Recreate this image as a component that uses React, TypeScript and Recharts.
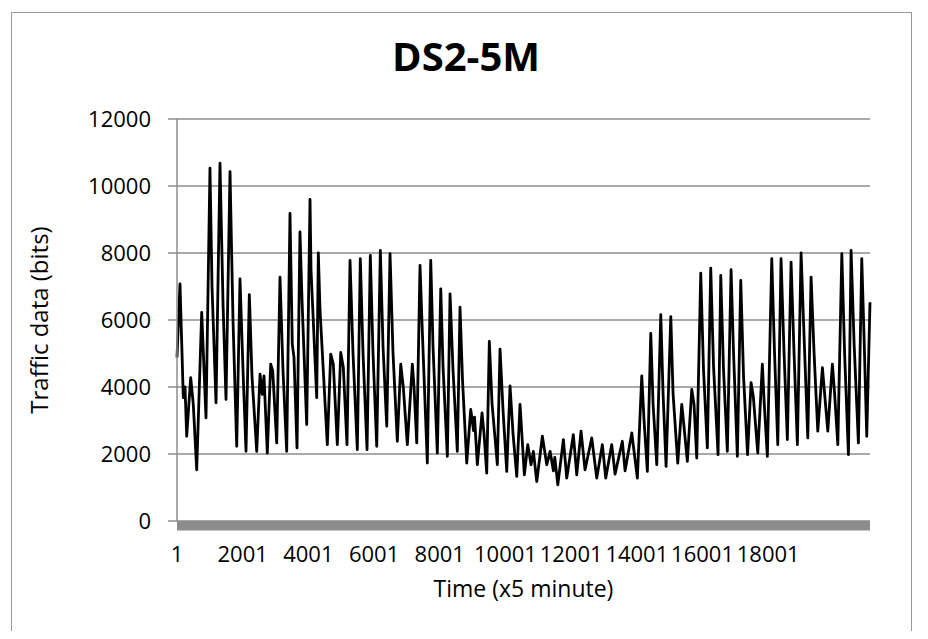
import { LineChart, Line, XAxis, YAxis, CartesianGrid, ReferenceArea, Label } from 'recharts';

// sample index (x5 minute)
const timeIdx = [
  1, 92, 193, 245, 296, 418, 497, 601, 753, 884,
  1005, 1067, 1189, 1310, 1402, 1493, 1615, 1706, 1819, 1919,
  2011, 2102, 2203, 2285, 2428, 2529, 2598, 2650, 2750, 2854,
  2915, 3037, 3137, 3228, 3341, 3441, 3511, 3563, 3655, 3745,
  3807, 3950, 4051, 4081, 4255, 4304, 4355, 4578, 4681, 4760,
  4882, 4986, 5065, 5177, 5269, 5360, 5491, 5582, 5665, 5787,
  5887, 5969, 6082, 6192, 6274, 6387, 6487, 6578, 6709, 6813,
  6892, 7014, 7166, 7218, 7300, 7400, 7461, 7622, 7726, 7796,
  7927, 8031, 8101, 8232, 8314, 8405, 8536, 8618, 8694, 8822,
  8944, 9029, 9060, 9145, 9288, 9349, 9431, 9510, 9593, 9754,
  9836, 9928, 10040, 10141, 10232, 10345, 10445, 10576, 10680, 10780,
  10851, 10955, 11125, 11259, 11360, 11460, 11503, 11595, 11765, 11867,
  12068, 12172, 12302, 12424, 12628, 12781, 12951, 13055, 13237, 13338,
  13560, 13643, 13847, 14017, 14151, 14221, 14322, 14425, 14495, 14608,
  14730, 14800, 14892, 15035, 15104, 15247, 15369, 15439, 15539, 15673,
  15743, 15825, 15947, 16032, 16148, 16251, 16337, 16474, 16556, 16641,
  16757, 16870, 16946, 17062, 17165, 17251, 17372, 17479, 17549, 17683,
  17823, 17875, 17975, 18109, 18194, 18292, 18392, 18484, 18584, 18697,
  18788, 18889, 19002, 19093, 19206, 19306, 19398, 19510, 19651, 19718,
  19815, 19955, 20022, 20120, 20242, 20327, 20443, 20524, 20616, 20747,
  20849, 20919, 21001, 21100,
];

// traffic in bits
const traffic = [
  4880, 7080, 3680, 4000, 2530, 4280, 3480, 1530, 6230, 3080,
  10530, 7000, 3530, 10680, 6500, 3630, 10430, 6000, 2230, 7230,
  4500, 2080, 6760, 4300, 2080, 4380, 3780, 4330, 2030, 4680,
  4480, 2330, 7280, 4500, 2080, 9180, 5280, 4880, 2180, 8630,
  6600, 2880, 9600, 7500, 3680, 8000, 6300, 2280, 4980, 4680,
  2280, 5030, 4580, 2280, 7780, 5000, 2130, 7830, 5000, 2130,
  7930, 5000, 2230, 8080, 5200, 2830, 7980, 5000, 2380, 4680,
  3980, 2280, 4680, 4000, 2330, 7630, 5900, 1730, 7780, 5200,
  2030, 6930, 4600, 1930, 6780, 4500, 2080, 6380, 4200, 1730,
  3330, 2700, 3100, 1680, 3230, 2600, 1430, 5360, 3500, 1680,
  5130, 3300, 1480, 4030, 2600, 1330, 3480, 1380, 2280, 1680,
  2080, 1180, 2530, 1680, 2080, 1500, 1900, 1080, 2430, 1280,
  2580, 1380, 2680, 1530, 2480, 1280, 2280, 1280, 2280, 1400,
  2380, 1500, 2630, 1280, 4330, 3000, 1480, 5600, 3500, 1680,
  6160, 3800, 1630, 6100, 3800, 1730, 3480, 2800, 1780, 3930,
  3480, 1880, 7400, 4500, 2180, 7550, 4600, 1980, 7330, 4500,
  2080, 7500, 5000, 1930, 7180, 4300, 1980, 4130, 3700, 2030,
  4680, 3600, 1930, 7830, 5000, 2280, 7830, 5000, 2430, 7730,
  5000, 2280, 8000, 5500, 2480, 7280, 5000, 2680, 4580, 3800,
  2680, 4680, 3800, 2280, 7980, 5000, 1980, 8080, 5300, 2330,
  7830, 5500, 2530, 6530,
];

const xTicks = [1, 2001, 4001, 6001, 8001, 10001, 12001, 14001, 16001, 18001];
const yTicks = [0, 2000, 4000, 6000, 8000, 10000, 12000];

const chartData = timeIdx.map((t, i) => ({ t, v: traffic[i] }));

const GRID = '#8c8c8c';
const FONT = '"Open Sans", sans-serif';

export default function App() {
  return (
    <div
      style={{
        position: 'relative',
        width: 928,
        height: 639,
        margin: -8,
        overflow: 'hidden',
        background: '#fff',
        fontFamily: FONT,
      }}
    >
      <div
        style={{
          position: 'absolute',
          left: 11,
          top: 12,
          width: 899,
          height: 700,
          border: '1px solid #9a9a9a',
        }}
      />
      <div
        style={{
          position: 'absolute',
          left: 316,
          top: 36,
          width: 300,
          textAlign: 'center',
          fontSize: 40,
          fontWeight: 700,
          lineHeight: '40px',
          color: '#000',
        }}
      >
        DS2-5M
      </div>
      <div style={{ position: 'absolute', left: 0, top: 0 }}>
        <LineChart width={928} height={639} margin={{ top: 119, right: 58, bottom: 0, left: 0 }}>
          <CartesianGrid vertical={false} stroke={GRID} strokeWidth={1.5} />
          <XAxis
            dataKey="t"
            type="number"
            domain={[1, 21100]}
            ticks={xTicks}
            interval={0}
            height={118}
            axisLine={false}
            tickLine={false}
            tickSize={0}
            tickMargin={25}
            tick={{ fill: '#000', fontSize: 22, fontFamily: FONT }}
          >
            <Label
              value="Time (x5 minute)"
              position="insideBottom"
              offset={42}
              style={{ fill: '#000', fontSize: 23, fontFamily: FONT }}
            />
          </XAxis>
          <YAxis
            type="number"
            domain={[0, 12000]}
            ticks={yTicks}
            interval={0}
            width={177}
            axisLine={{ stroke: GRID, strokeWidth: 1.5 }}
            tickLine={{ stroke: GRID, strokeWidth: 1.5 }}
            tickSize={9}
            tickMargin={17}
            tick={{ fill: '#000', fontSize: 22, fontFamily: FONT }}
          >
            <Label
              content={(props: any) => {
                const vb = props.viewBox || { x: 0, y: 119, width: 177, height: 402 };
                const cx = vb.x + 38;
                const cy = vb.y + vb.height / 2;
                return (
                  <text
                    x={cx}
                    y={cy}
                    transform={`rotate(-90 ${cx} ${cy})`}
                    textAnchor="middle"
                    dominantBaseline="central"
                    fontSize={24}
                    fontFamily={FONT}
                    fill="#000"
                  >
                    Traffic data (bits)
                  </text>
                );
              }}
            />
          </YAxis>
          <ReferenceArea y1={-280} y2={0} fill={GRID} fillOpacity={1} stroke="none" ifOverflow="visible" />
          <Line
            data={chartData}
            dataKey="v"
            type="linear"
            stroke="#000"
            strokeWidth={2.8}
            strokeLinejoin="round"
            dot={false}
            isAnimationActive={false}
          />
        </LineChart>
      </div>
    </div>
  );
}
